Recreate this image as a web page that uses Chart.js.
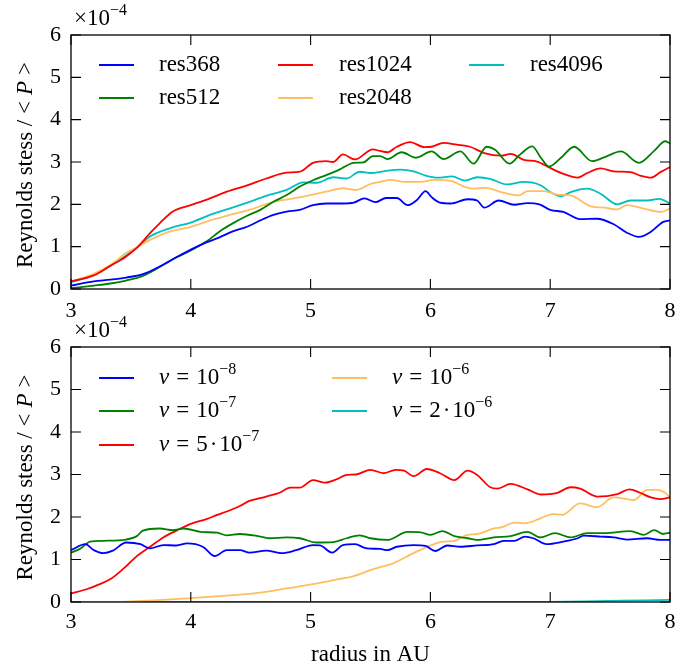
<!DOCTYPE html>
<html><head><meta charset="utf-8">
<script src="https://cdn.jsdelivr.net/npm/chart.js@4.4.1/dist/chart.umd.min.js"></script>
<style>
html,body{margin:0;padding:0;background:#fff;}
#wrap{position:relative;width:697px;height:668px;overflow:hidden;background:#fff;}
canvas{position:absolute;left:0;}
#c1{top:0;}
#c2{top:305px;}
</style></head><body>
<div id="wrap"><canvas id="c1" width="697" height="330"></canvas><canvas id="c2" width="697" height="363"></canvas></div>
<script>
// ---- DATA (y in units of 1e-4) ----
const Y_EXP = -4;
const xTicks = [3, 4, 5, 6, 7, 8];
const yTicks = [0, 1, 2, 3, 4, 5, 6];

// Top panel: resolution study
const res368X = [3.0,3.19,3.33,3.46,3.6,3.74,3.88,4.0,4.13,4.24,4.35,4.47,4.58,4.69,4.8,4.91,5.02,5.13,5.27,5.36,5.45,5.54,5.63,5.72,5.81,5.89,5.96,6.01,6.08,6.17,6.31,6.39,6.45,6.57,6.7,6.81,6.91,7.0,7.11,7.25,7.39,7.53,7.64,7.74,7.84,7.94,8.0];
const res368Y = [0.08,0.18,0.22,0.27,0.35,0.53,0.75,0.93,1.1,1.22,1.36,1.47,1.62,1.75,1.83,1.87,1.98,2.02,2.02,2.04,2.14,2.05,2.15,2.15,1.98,2.11,2.31,2.17,2.04,2.02,2.12,2.09,1.92,2.09,1.99,2.03,2.0,1.87,1.82,1.65,1.66,1.53,1.33,1.23,1.35,1.58,1.62];

const res512X = [3.0,3.19,3.33,3.46,3.6,3.74,3.88,4.0,4.13,4.24,4.35,4.47,4.58,4.69,4.8,4.91,5.02,5.13,5.24,5.36,5.44,5.52,5.58,5.64,5.76,5.88,6.01,6.11,6.25,6.36,6.47,6.54,6.66,6.75,6.85,6.92,6.99,7.09,7.2,7.35,7.45,7.59,7.74,7.87,7.96,8.0];
const res512Y = [0.02,0.08,0.13,0.2,0.31,0.52,0.75,0.91,1.12,1.36,1.55,1.73,1.87,2.06,2.22,2.42,2.57,2.69,2.82,2.98,2.99,3.14,3.14,3.07,3.23,3.1,3.25,3.07,3.25,2.96,3.36,3.29,2.96,3.18,3.37,3.11,2.89,3.1,3.36,3.02,3.11,3.25,2.98,3.27,3.49,3.44];

const res1024X = [3.0,3.19,3.33,3.46,3.56,3.66,3.74,3.85,4.0,4.16,4.3,4.47,4.63,4.8,4.91,5.02,5.13,5.19,5.27,5.37,5.52,5.58,5.64,5.72,5.83,5.95,6.01,6.11,6.22,6.33,6.45,6.59,6.67,6.78,6.89,7.0,7.11,7.23,7.31,7.42,7.53,7.67,7.75,7.84,7.92,8.0];
const res1024Y = [0.18,0.32,0.55,0.77,1.0,1.32,1.55,1.83,1.98,2.14,2.3,2.45,2.61,2.75,2.77,2.98,3.02,3.0,3.18,3.06,3.3,3.26,3.23,3.36,3.47,3.35,3.36,3.45,3.41,3.36,3.21,3.15,3.19,3.05,3.01,2.86,2.72,2.63,2.74,2.85,2.78,2.76,2.68,2.63,2.76,2.88];

const res2048X = [3.0,3.19,3.33,3.46,3.56,3.66,3.83,4.0,4.16,4.3,4.49,4.69,4.86,4.97,5.13,5.27,5.38,5.5,5.58,5.67,5.78,5.92,6.03,6.18,6.28,6.36,6.46,6.59,6.74,6.81,6.95,7.06,7.17,7.34,7.45,7.56,7.64,7.78,7.92,8.0];
const res2048Y = [0.18,0.36,0.57,0.85,1.0,1.16,1.36,1.47,1.62,1.73,1.87,2.06,2.14,2.2,2.3,2.38,2.34,2.48,2.53,2.58,2.53,2.53,2.58,2.55,2.42,2.37,2.39,2.29,2.21,2.31,2.31,2.23,2.21,1.95,1.92,1.88,1.98,1.9,1.82,1.9];

const res4096X = [3.0,3.19,3.33,3.56,3.66,3.83,4.0,4.16,4.3,4.49,4.63,4.8,4.94,5.05,5.19,5.3,5.41,5.5,5.61,5.75,5.86,5.96,6.06,6.18,6.29,6.39,6.5,6.64,6.78,6.92,7.0,7.09,7.17,7.31,7.42,7.56,7.67,7.81,7.91,8.0];
const res4096Y = [0.16,0.33,0.55,1.0,1.24,1.44,1.57,1.75,1.88,2.06,2.2,2.34,2.52,2.51,2.64,2.61,2.77,2.74,2.78,2.82,2.78,2.68,2.63,2.66,2.56,2.64,2.6,2.47,2.53,2.45,2.29,2.19,2.29,2.37,2.25,2.0,2.09,2.09,2.13,2.02];

// Bottom panel: viscosity study
const nu1e8X = [3.0,3.12,3.19,3.27,3.35,3.46,3.58,3.66,3.77,3.88,3.97,4.1,4.2,4.3,4.41,4.49,4.63,4.76,4.88,5.02,5.08,5.18,5.27,5.37,5.47,5.58,5.64,5.72,5.86,5.96,6.04,6.14,6.25,6.39,6.53,6.61,6.7,6.79,6.86,6.97,7.11,7.23,7.28,7.42,7.53,7.64,7.81,7.92,8.0];
const nu1e8Y = [1.22,1.36,1.22,1.15,1.21,1.4,1.36,1.26,1.34,1.33,1.38,1.3,1.08,1.22,1.22,1.16,1.21,1.15,1.22,1.34,1.33,1.16,1.34,1.36,1.26,1.25,1.22,1.3,1.34,1.32,1.2,1.33,1.3,1.33,1.36,1.44,1.44,1.54,1.5,1.36,1.42,1.5,1.56,1.54,1.52,1.47,1.5,1.46,1.46];

const nu1e7X = [3.0,3.08,3.16,3.27,3.46,3.55,3.6,3.74,3.85,3.94,4.08,4.22,4.3,4.41,4.58,4.66,4.8,4.91,5.05,5.19,5.3,5.41,5.5,5.64,5.81,5.92,6.0,6.1,6.2,6.31,6.39,6.53,6.67,6.81,6.92,7.04,7.17,7.31,7.45,7.67,7.78,7.87,7.94,8.0];
const nu1e7Y = [1.16,1.26,1.42,1.44,1.47,1.55,1.68,1.73,1.69,1.73,1.65,1.63,1.57,1.6,1.54,1.5,1.52,1.5,1.4,1.41,1.5,1.57,1.5,1.46,1.65,1.64,1.58,1.67,1.55,1.5,1.46,1.52,1.55,1.65,1.52,1.62,1.52,1.62,1.62,1.67,1.58,1.69,1.6,1.63];

const nu5e7X = [3.0,3.13,3.24,3.34,3.44,3.55,3.66,3.77,3.88,4.0,4.13,4.22,4.3,4.41,4.49,4.63,4.74,4.83,4.91,5.02,5.12,5.22,5.3,5.38,5.5,5.61,5.71,5.78,5.86,5.97,6.08,6.2,6.31,6.39,6.5,6.56,6.67,6.81,6.92,7.06,7.17,7.25,7.39,7.56,7.66,7.75,7.84,7.92,8.0];
const nu5e7Y = [0.2,0.3,0.42,0.56,0.79,1.08,1.3,1.52,1.68,1.84,1.95,2.05,2.13,2.26,2.38,2.48,2.57,2.69,2.69,2.87,2.81,2.89,2.99,3.0,3.11,3.03,3.11,3.09,2.96,3.13,3.03,2.87,3.09,2.99,2.7,2.67,2.78,2.65,2.53,2.57,2.7,2.67,2.48,2.54,2.65,2.57,2.46,2.42,2.46];

const nu1e6X = [3.0,3.46,4.0,4.3,4.58,4.8,5.02,5.22,5.36,5.5,5.58,5.69,5.83,5.97,6.1,6.2,6.31,6.39,6.53,6.6,6.7,6.79,6.92,7.02,7.1,7.25,7.39,7.53,7.7,7.81,7.89,7.96,8.0];
const nu1e6Y = [0.0,0.01,0.09,0.15,0.22,0.32,0.42,0.53,0.61,0.75,0.82,0.91,1.11,1.29,1.42,1.44,1.58,1.6,1.73,1.76,1.87,1.85,1.97,2.07,2.05,2.32,2.23,2.46,2.4,2.64,2.64,2.57,2.46];

const nu2e6X = [3.0,4.0,5.0,6.0,6.8,7.0,7.3,7.6,8.0];
const nu2e6Y = [0,0,0,0,0,0.005,0.015,0.03,0.05];

// ---- STYLE ----
const BLUE = '#0000ff', GREEN = '#008000', RED = '#ff0000', ORANGE = '#ffbf60', CYAN = '#00bfbf';
const SERIF = '"Liberation Serif", "DejaVu Serif", "Times New Roman", serif';
const FS = 22;   // tick labels
const FT = 23;   // legend & titles
function fnt(sz, it) { return (it ? 'italic ' : '') + sz + 'px ' + SERIF; }
function pts(xs, ys) { return xs.map((x, i) => ({ x: x, y: ys[i] })); }
function ds(label, xs, ys, color) {
  return { label: label, data: pts(xs, ys), borderColor: color, backgroundColor: color,
           borderWidth: 1.8, pointRadius: 0, fill: false, cubicInterpolationMode: 'monotone' };
}

function partsWidth(ctx, parts, size) {
  let w = 0;
  for (const p of parts) {
    const sz = p.sup ? Math.round(size * 0.7) : size;
    ctx.font = fnt(sz, p.it);
    w += (p.gl || 0) + ctx.measureText(p.t).width + (p.gr || 0);
  }
  return w;
}
function drawParts(ctx, x, y, parts, size) {
  let cx = x;
  ctx.textAlign = 'left';
  ctx.textBaseline = 'middle';
  for (const p of parts) {
    cx += p.gl || 0;
    const sz = p.sup ? Math.round(size * 0.7) : size;
    ctx.font = fnt(sz, p.it);
    ctx.fillText(p.t, cx, y - (p.sup ? size * 0.36 : 0));
    cx += ctx.measureText(p.t).width + (p.gr || 0);
  }
  return cx - x;
}

const yTitleParts = [{ t: 'Reynolds stess / ' }, { t: '<', gr: 6 }, { t: 'P', it: true, gr: 6 }, { t: '>' }];

function makePlugin(cfg) {
  return {
    id: 'decor' + cfg.id,
    afterDraw(chart) {
      const ctx = chart.ctx;
      const a = chart.chartArea;
      const xs = chart.scales.x, ys = chart.scales.y;
      ctx.save();
      ctx.strokeStyle = '#000';
      ctx.fillStyle = '#000';
      // frame
      ctx.lineWidth = 1.3;
      ctx.strokeRect(a.left, a.top, a.right - a.left, a.bottom - a.top);
      // inward ticks
      ctx.lineWidth = 1.1;
      ctx.beginPath();
      xTicks.forEach(v => {
        const px = xs.getPixelForValue(v);
        ctx.moveTo(px, a.bottom); ctx.lineTo(px, a.bottom - 10);
        ctx.moveTo(px, a.top); ctx.lineTo(px, a.top + 10);
      });
      yTicks.forEach(v => {
        const py = ys.getPixelForValue(v);
        ctx.moveTo(a.left, py); ctx.lineTo(a.left + 10, py);
        ctx.moveTo(a.right, py); ctx.lineTo(a.right - 10, py);
      });
      ctx.stroke();
      // offset text x10^-4
      drawParts(ctx, a.left + 3, cfg.expY, [{ t: '×10' }, { t: '−' + Math.abs(Y_EXP), sup: true }], FT);
      // y title
      const w = partsWidth(ctx, yTitleParts, FT);
      ctx.save();
      ctx.translate(26, (a.top + a.bottom) / 2 + 3);
      ctx.rotate(-Math.PI / 2);
      drawParts(ctx, -w / 2, 0, yTitleParts, FT);
      ctx.restore();
      // x title
      if (cfg.xTitle) {
        ctx.font = fnt(FT);
        ctx.textAlign = 'center';
        ctx.textBaseline = 'middle';
        ctx.fillText(cfg.xTitle, (a.left + a.right) / 2, cfg.xTitleY);
      }
      // legend
      cfg.legend.forEach(it => {
        ctx.strokeStyle = it.color;
        ctx.lineWidth = 2;
        ctx.beginPath();
        ctx.moveTo(it.lx, it.y); ctx.lineTo(it.lx + 35, it.y);
        ctx.stroke();
        ctx.fillStyle = '#000';
        drawParts(ctx, it.tx, it.y, it.parts, FT);
      });
      ctx.restore();
    }
  };
}

function makeChart(canvasId, datasets, cfg) {
  const H = document.getElementById(canvasId).height;
  return new Chart(document.getElementById(canvasId), {
    type: 'line',
    data: { datasets: datasets },
    options: {
      responsive: false, animation: false, devicePixelRatio: 1,
      layout: { padding: { left: 0, right: 27, top: cfg.top, bottom: 0 } },
      plugins: { legend: { display: false }, tooltip: { enabled: false } },
      scales: {
        x: { type: 'linear', min: 3, max: 8,
             ticks: { stepSize: 1, color: '#000', font: { family: SERIF, size: FS }, padding: cfg.xPad, maxRotation: 0 },
             grid: { display: false, drawTicks: false }, border: { display: false },
             afterFit: s => { s.height = H - cfg.bottom; } },
        y: { min: 0, max: 6,
             ticks: { stepSize: 1, color: '#000', font: { family: SERIF, size: FS }, padding: 10 },
             grid: { display: false, drawTicks: false }, border: { display: false },
             afterFit: s => { s.width = 71; } }
      }
    },
    plugins: [makePlugin(cfg)]
  });
}

makeChart('c1', [
  ds('res368', res368X, res368Y, BLUE),
  ds('res512', res512X, res512Y, GREEN),
  ds('res1024', res1024X, res1024Y, RED),
  ds('res2048', res2048X, res2048Y, ORANGE),
  ds('res4096', res4096X, res4096Y, CYAN)
], {
  id: 1, top: 35, bottom: 289, xPad: 9, expY: 19,
  legend: [
    { color: BLUE, lx: 99, tx: 159, y: 65, parts: [{ t: 'res368' }] },
    { color: GREEN, lx: 99, tx: 159, y: 98, parts: [{ t: 'res512' }] },
    { color: RED, lx: 278, tx: 339, y: 65, parts: [{ t: 'res1024' }] },
    { color: ORANGE, lx: 278, tx: 339, y: 98, parts: [{ t: 'res2048' }] },
    { color: CYAN, lx: 469, tx: 530, y: 65, parts: [{ t: 'res4096' }] }
  ]
});

const nuParts = (pre, e) => {
  const p = [{ t: 'ν', it: true, gr: 7 }, { t: '=', gr: 7 }];
  if (pre) { p.push({ t: pre }); p.push({ t: '·', gl: 2, gr: 2 }); }
  p.push({ t: '10' });
  p.push({ t: '−' + e, sup: true });
  return p;
};

makeChart('c2', [
  ds('ν=1e-8', nu1e8X, nu1e8Y, BLUE),
  ds('ν=1e-7', nu1e7X, nu1e7Y, GREEN),
  ds('ν=5e-7', nu5e7X, nu5e7Y, RED),
  ds('ν=1e-6', nu1e6X, nu1e6Y, ORANGE),
  ds('ν=2e-6', nu2e6X, nu2e6Y, CYAN)
], {
  id: 2, top: 42, bottom: 297, xPad: 7, expY: 26, xTitle: 'radius in AU', xTitleY: 350,
  legend: [
    { color: BLUE, lx: 99, tx: 159, y: 73, parts: nuParts(null, 8) },
    { color: GREEN, lx: 99, tx: 159, y: 106, parts: nuParts(null, 7) },
    { color: RED, lx: 99, tx: 159, y: 140, parts: nuParts('5', 7) },
    { color: ORANGE, lx: 332, tx: 392, y: 73, parts: nuParts(null, 6) },
    { color: CYAN, lx: 332, tx: 392, y: 106, parts: nuParts('2', 6) }
  ]
});
</script>
</body></html>
